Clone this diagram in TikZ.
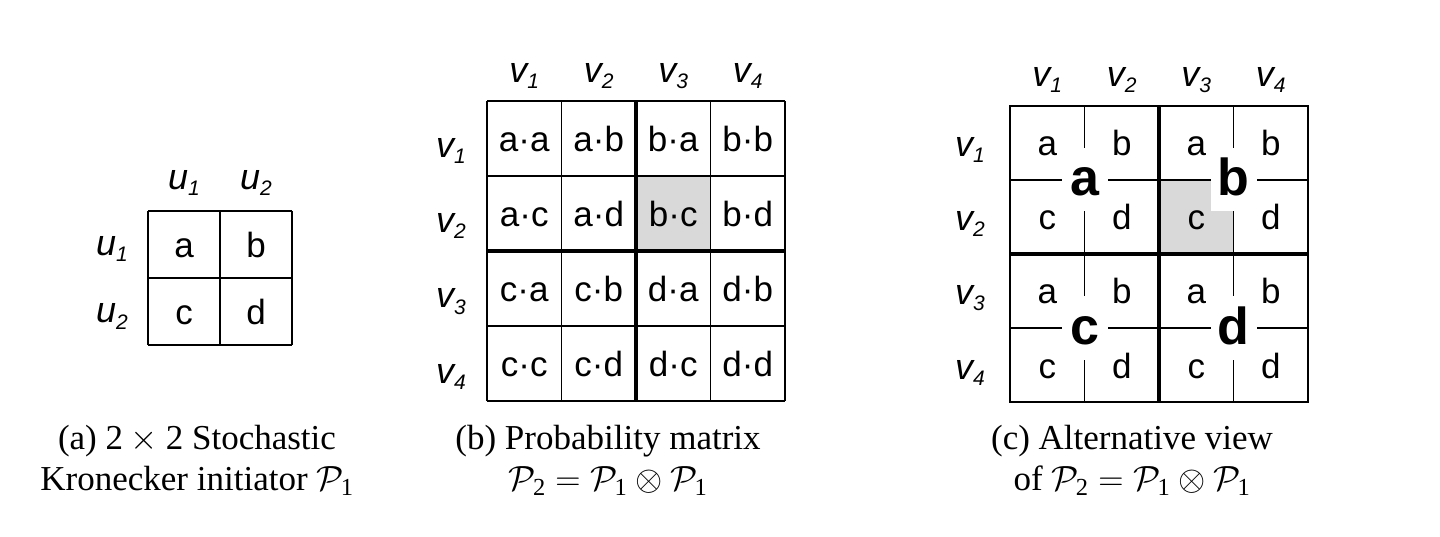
\RequirePackage{fix-cm}
\documentclass[tikz,border=0pt]{standalone}
\usepackage{amsmath}
\usepackage{fontspec}
\setmainfont{Liberation Serif}
\setsansfont{Liberation Sans}
\usetikzlibrary{positioning}

\definecolor{cellgray}{HTML}{D9D9D9}
\newcommand{\vsub}[2]{#1\raisebox{-6pt}{\fontsize{21}{21}\selectfont #2}}

\tikzset{
    cell/.style={font=\sffamily\fontsize{35}{35}\selectfont, inner sep=0pt, text height=29pt, text depth=3pt},
    lbl/.style={font=\sffamily\itshape\fontsize{36}{36}\selectfont, inner sep=0pt},
    bigletter/.style={font=\sffamily\bfseries\fontsize{52}{52}\selectfont, fill=white, inner sep=0pt,
        minimum width=46pt, minimum height=63pt, text height=34pt, text depth=2pt},
    thinline/.style={line width=1.6pt},
    thickline/.style={line width=4pt},
    caption/.style={font=\fontsize{35}{41}\selectfont, align=center, inner sep=0pt, anchor=north},
}

\begin{document}
\begin{tikzpicture}[x=1pt, y=-1pt]
    \useasboundingbox (0,0) rectangle (1440,537);

    % (a) initiator
    \foreach \x in {148,220,292} \draw[thinline] (\x,211) -- (\x,345);
    \foreach \y in {211,278,345} \draw[thinline] (148,\y) -- (292,\y);
    \foreach \t [count=\i from 0] in {a,b,c,d} {
        \pgfmathsetmacro\cx{184+72*mod(\i,2)}
        \pgfmathsetmacro\cy{244.5+67*int(\i/2)}
        \node[cell] (A\t) at (\cx,\cy) {\t};
    }
    \foreach \i in {1,2} {
        \node[lbl, anchor=base] (Acol\i) at (112+72*\i,190) {\vsub{u}{\i}};
        \node[lbl, anchor=base east] (Arow\i) at (128,189+67*\i) {\vsub{u}{\i}};
    }

    % (b) probability matrix
    \fill[cellgray] (636,176) rectangle (710.5,251);
    \foreach \x in {487,561.5,636,710.5,785} \draw[thinline] (\x,101) -- (\x,401);
    \foreach \y in {101,176,251,326,401} \draw[thinline] (487,\y) -- (785,\y);
    \draw[thickline] (636,101) -- (636,401);
    \draw[thickline] (487,251) -- (785,251);
    \foreach \t [count=\i from 0] in {a·a,a·b,b·a,b·b,a·c,a·d,b·c,b·d,c·a,c·b,d·a,d·b,c·c,c·d,d·c,d·d} {
        \pgfmathsetmacro\cx{524.25+74.5*mod(\i,4)}
        \pgfmathsetmacro\cy{138.5+75*int(\i/4)}
        \node[cell] (B\i) at (\cx,\cy) {\t};
    }
    \foreach \i in {1,...,4} {
        \node[lbl, anchor=base] (Bcol\i) at (449.75+74.5*\i,83) {\vsub{v}{\i}};
        \node[lbl, anchor=base east] (Brow\i) at (466,83+75*\i) {\vsub{v}{\i}};
    }

    % (c) alternative view
    \fill[cellgray] (1159,180) rectangle (1233.5,254);
    \draw[thinline] (1010,106) rectangle (1308,402);
    \foreach \x in {1084.5,1233.5} \draw[thinline] (\x,106) -- (\x,402);
    \foreach \y in {180,328} \draw[thinline] (1010,\y) -- (1308,\y);
    \draw[thickline] (1159,106) -- (1159,402);
    \draw[thickline] (1010,254) -- (1308,254);
    \foreach \t [count=\i from 0] in {a,b,a,b,c,d,c,d,a,b,a,b,c,d,c,d} {
        \pgfmathsetmacro\cx{1047.25+74.5*mod(\i,4)}
        \pgfmathsetmacro\cy{143+74*int(\i/4)}
        \node[cell] (C\i) at (\cx,\cy) {\t};
    }
    \node[bigletter] (Ca) at (1084.5,180) {a};
    \node[bigletter] (Cb) at (1233.5,180) {b};
    \node[bigletter] (Cc) at (1084.5,328) {c};
    \node[bigletter] (Cd) at (1233.5,328) {d};
    \foreach \i in {1,...,4} {
        \node[lbl, anchor=base] (Ccol\i) at (972.75+74.5*\i,87) {\vsub{v}{\i}};
        \node[lbl, anchor=base east] (Crow\i) at (985,83+74*\i) {\vsub{v}{\i}};
    }

    % captions
    \node[caption] (capA) at (197,425) {(a) $\text{2}\times\text{2}$ Stochastic\\Kronecker initiator $\mathcal{P}_{\text{1}}$};
    \node[caption] (capB) at (608,425) {(b) Probability matrix\\$\mathcal{P}_{\text{2}}=\mathcal{P}_{\text{1}}\otimes\mathcal{P}_{\text{1}}$};
    \node[caption] (capC) at (1132,425) {(c) Alternative view\\of $\mathcal{P}_{\text{2}}=\mathcal{P}_{\text{1}}\otimes\mathcal{P}_{\text{1}}$};
\end{tikzpicture}
\end{document}
